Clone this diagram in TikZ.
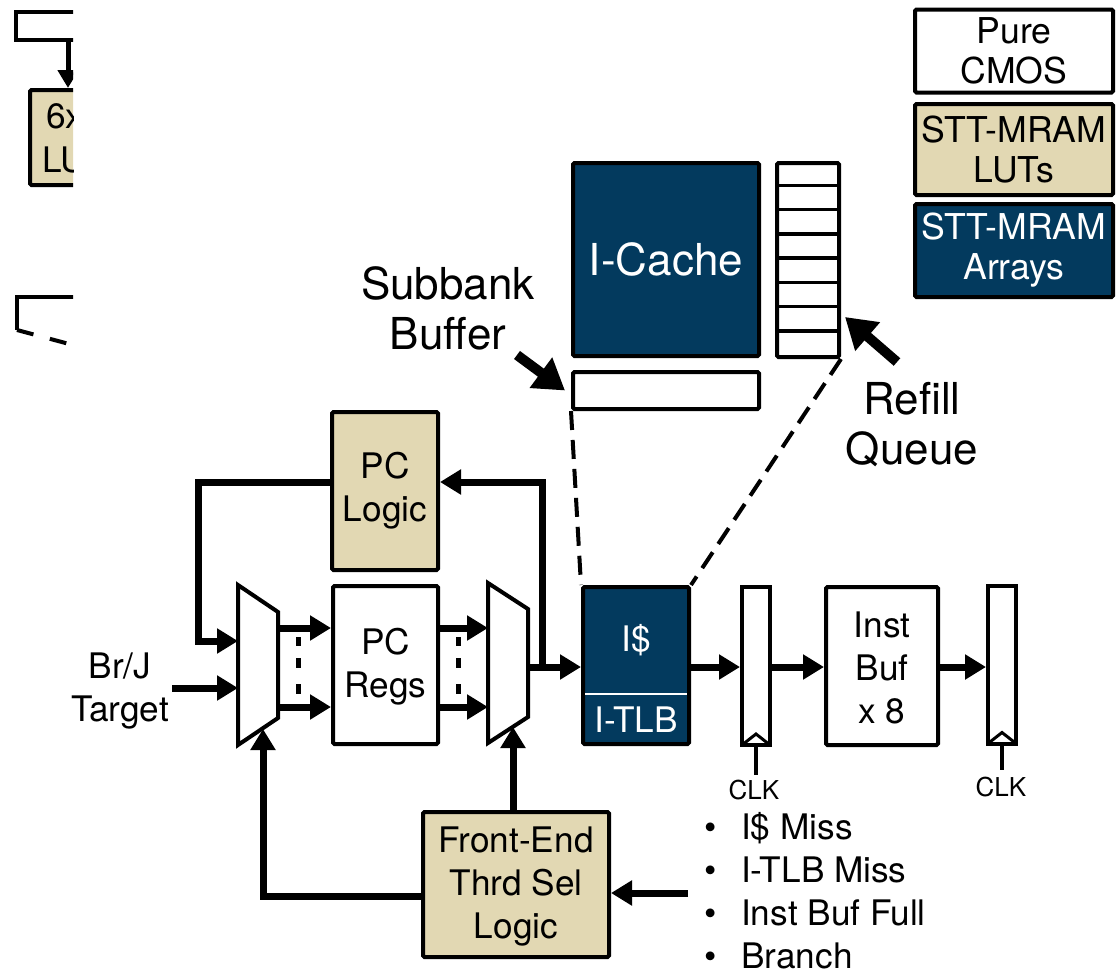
\documentclass[tikz,border=0pt]{standalone}
\usepackage{fontspec}
\setmainfont{TeX Gyre Heros}
\usetikzlibrary{arrows.meta}
\definecolor{lut}{RGB}{226,216,179}
\definecolor{arr}{RGB}{3,58,94}
\newcommand\fsBlock{\fontsize{35.2}{43}\selectfont}
\newcommand\fsBig{\fontsize{44}{50}\selectfont}
\newcommand\fsClk{\fontsize{26}{30}\selectfont}
\newcommand\fsLeg{\fontsize{35.6}{40}\selectfont}
\begin{document}
\begin{tikzpicture}[x=1pt,y=-1pt,
  box/.style={draw, line width=4pt, rounded corners=1.5pt, align=center, font=\fsBlock, inner sep=0pt},
  cmos/.style={box, fill=white},
  lutbox/.style={box, fill=lut},
  arrbox/.style={box, fill=arr, text=white},
  legbox/.style={box, font=\fsLeg, minimum width=198pt},
  reg/.style={draw, line width=4pt, fill=white, minimum width=28pt, minimum height=158pt, inner sep=0pt},
  muxshape/.style={draw, line width=4pt, fill=white, line join=miter},
  conn/.style={line width=7pt},
  tip/.style={-{Triangle[length=21pt,width=24pt]}},
  bigtip/.style={line width=10pt, -{Triangle[length=30pt,width=36pt]}},
  dashline/.style={line width=4pt, dash pattern=on 19pt off 10pt},
  txt/.style={align=center, inner sep=0pt},
  clk/.style={txt, font=\fsClk, anchor=north},
  dots/.style={line width=5pt},
]
\useasboundingbox (0,0) rectangle (1117,969);

% ---- partial neighbouring stage on the left edge ----
\begin{scope}
  \clip (0,0) rectangle (73,969);
  \draw[line width=4pt] (140,12) -- (16,12) -- (16,40) -- (140,40);
  \node[lutbox, minimum width=140pt, minimum height=95pt, anchor=north west] (lut6) at (28,88) {};
  \node[txt, font=\fsBlock, anchor=west] (lut6a) at (46,116) {6x};
  \node[txt, font=\fsBlock, anchor=west] (lut6b) at (42,160) {LUTs};
  \coordinate (lutin) at (68,40);
  \draw[line width=5pt, -{Triangle[length=18pt,width=20pt]}] (lutin) -- (lutin |- lut6.north);
  \draw[line width=4pt] (140,297) -- (17,297) -- (17,330);
  \draw[line width=4pt, dash pattern=on 17pt off 17pt] (17,330) -- (140,363);
\end{scope}

% ---- legend ----
\node[legbox, fill=white, minimum height=83pt] (legA) at (1014,51) {Pure\\CMOS};
\node[legbox, fill=lut, minimum height=91pt] (legB) at (1014,149.5) {STT-MRAM\\LUTs};
\node[legbox, fill=arr, text=white, minimum height=93pt] (legC) at (1014,250.5) {STT-MRAM\\Arrays};

% ---- I-cache detail ----
\node[arrbox, font=\fsBig, minimum width=186pt, minimum height=193pt] (ic) at (666,259.5) {I-Cache};
\node[cmos, minimum width=186pt, minimum height=37pt] (sb) at (666,390.5) {};
\node[cmos, minimum width=62pt, minimum height=194pt] (rq) at (808,260) {};
\foreach \i in {1,...,7}
  \draw[line width=3.5pt] (rq.north west) ++(0,\i*24.25) -- ++(62,0);

\node[txt, font=\fsBig] (sbl) at (448,308) {Subbank\\Buffer};
\node[txt, font=\fsBig] (rql) at (912,425) {Refill\\Queue};
\coordinate (sbt) at (517,355);
\draw[bigtip] (sbt) -- ([xshift=-6pt]sb.west);
\coordinate (rqt) at (897,362);
\draw[bigtip] (rqt) -- ([xshift=4pt,yshift=-57pt]rq.east);

% ---- pipeline blocks ----
\node[lutbox, minimum width=106pt, minimum height=158pt] (pcl) at (385,491) {PC\\Logic};
\node[cmos, minimum width=105pt, minimum height=158pt] (pcr) at (385.5,665) {};
\node[txt, font=\fsBlock] (pcrt) at (385.5,667) {PC\\Regs};
\node[arrbox, minimum width=106pt, minimum height=157pt] (icl) at (636,665.5) {};
\node[txt, font=\fsBlock, text=white] (iclA) at (636,640) {I\$};
\node[txt, font=\fsBlock, text=white] (iclB) at (636,720) {I-TLB};
\draw[white, line width=2pt] (585,694) -- (687,694);
\node[reg] (r1) at (756,666) {};
\node[cmos, minimum width=112pt, minimum height=158pt] (ib) at (882,666) {};
\node[txt, font=\fsBlock] (ibt) at (882,668) {Inst\\Buf\\x 8};
\node[reg] (r2) at (1002,664.5) {};
\node[lutbox, minimum width=186pt, minimum height=145pt] (fe) at (516,884.5) {};
\node[txt, font=\fsBlock] (fet) at (516,886) {Front-End\\Thrd Sel\\Logic};

% ---- multiplexers ----
\draw[muxshape] (238,585) -- (278,612) -- (278,718) -- (238,745) -- cycle;
\draw[muxshape] (488,583) -- (528,609) -- (528,717) -- (488,743) -- cycle;
\coordinate (m1inA) at (238,641);
\coordinate (m1inB) at (238,688);
\coordinate (m1oA) at (278,628);
\coordinate (m1oB) at (278,707);
\coordinate (m1sel) at (263,729);
\coordinate (m2iA) at (488,628);
\coordinate (m2iB) at (488,707);
\coordinate (m2o) at (528,667);
\coordinate (m2sel) at (513,727);
\coordinate (jn) at (542,667);
\coordinate (fbR) at (542,482);
\coordinate (fbL) at (198,482);

% ---- connectors ----
\draw[conn,tip] (m1oA) -- (m1oA -| pcr.west);
\draw[conn,tip] (m1oB) -- (m1oB -| pcr.west);
\draw[conn,tip] (m2iA -| pcr.east) -- (m2iA);
\draw[conn,tip] (m2iB -| pcr.east) -- (m2iB);
\foreach \x in {298,458} {
  \draw[dots] (\x,637) -- (\x,646);
  \draw[dots] (\x,658) -- (\x,668);
  \draw[dots] (\x,684) -- (\x,694);
}
\draw[conn,tip] (m2o) -- (m2o -| icl.west);
\draw[conn,tip] (jn) -- (fbR) -- (fbR -| pcl.east);
\draw[conn,tip] (fbL -| pcl.west) -- (fbL) |- (m1inA);

\node[txt, font=\fsBlock] (brj) at (120,691) {Br/J\\Target};
\draw[conn,tip] ([xshift=3pt]brj.east |- m1inB) -- (m1inB);

\draw[conn,tip] ([yshift=-12pt]fe.west) -| (m1sel);
\draw[conn,tip] (fe.north -| m2sel) -- (m2sel);

\draw[conn,tip] (icl.east |- jn) -- (jn -| r1.west);
\draw[conn,tip] (jn -| r1.east) -- (jn -| ib.west);
\draw[conn,tip] (jn -| ib.east) -- (jn -| r2.west);

% ---- clocks ----
\foreach \r in {r1,r2} {
  \draw[line width=3pt] ([xshift=2pt,yshift=2pt]\r.south west) -- ([yshift=13pt]\r.south) -- ([xshift=-2pt,yshift=2pt]\r.south east);
}
\coordinate (c1) at (756,775);
\coordinate (c2) at (1002,770);
\draw[line width=4pt] (r1.south) -- (c1);
\draw[line width=4pt] (r2.south) -- (c2);
\node[clk] (clk1) at (754,780) {CLK};
\node[clk] (clk2) at (1001,777) {CLK};

% ---- stall conditions ----
\node[txt, font=\fsBlock, align=left, anchor=west] (conds) at (704,891)
  {\makebox[37pt][l]{•}I\$ Miss\\
   \makebox[37pt][l]{•}I-TLB Miss\\
   \makebox[37pt][l]{•}Inst Buf Full\\
   \makebox[37pt][l]{•}Branch};
\coordinate (cin) at (688,893);
\draw[conn,tip] (cin) -- (cin -| fe.east);

% ---- detail call-out lines ----
\draw[dashline] (sb.south west) -- (icl.north west);
\draw[dashline] (rq.south east) -- (icl.north east);
\end{tikzpicture}
\end{document}
